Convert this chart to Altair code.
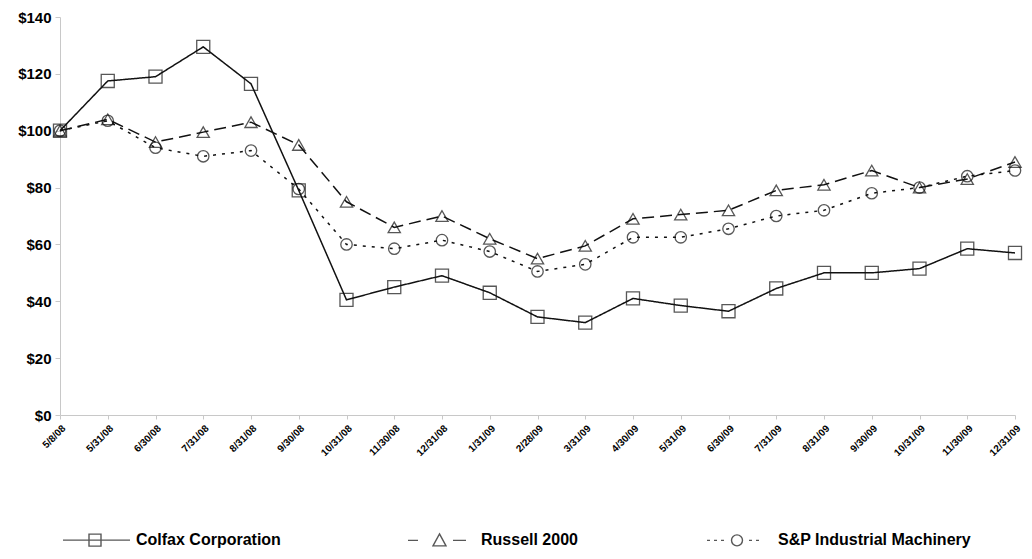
import altair as alt
import pandas as pd

dates = ["5/8/08", "5/31/08", "6/30/08", "7/31/08", "8/31/08", "9/30/08",
         "10/31/08", "11/30/08", "12/31/08", "1/31/09", "2/28/09", "3/31/09",
         "4/30/09", "5/31/09", "6/30/09", "7/31/09", "8/31/09", "9/30/09",
         "10/31/09", "11/30/09", "12/31/09"]

colfax = [100, 117.5, 119, 129.5, 116.5, 79, 40.5, 45, 49, 43, 34.5, 32.5,
          41, 38.5, 36.5, 44.5, 50, 50, 51.5, 58.5, 57]
russell = [100, 104, 96, 99.5, 103, 95, 75, 66, 70, 62, 55, 59.5,
           69, 70.5, 72, 79, 81, 86, 80, 83, 89]
sp_machinery = [100, 103.5, 94, 91, 93, 79.5, 60, 58.5, 61.5, 57.5, 50.5, 53,
                62.5, 62.5, 65.5, 70, 72, 78, 80, 84, 86]

series_names = ["Colfax Corporation", "Russell 2000", "S&P Industrial Machinery"]
y_ticks = [0, 20, 40, 60, 80, 100, 120, 140]

rows = []
for name, vals in zip(series_names, [colfax, russell, sp_machinery]):
    for d, v in zip(dates, vals):
        rows.append({"date": d, "value": v, "series": name})
df = pd.DataFrame(rows)

FONT = "Liberation Sans"

x_enc = alt.X("date:N", sort=dates,
              scale=alt.Scale(type="point", padding=0),
              axis=alt.Axis(title=None, labelAngle=-45, labelFontSize=10,
                            labelFontWeight="bold", labelFont=FONT,
                            labelColor="#000", domainColor="#c8c8c8",
                            tickColor="#c8c8c8", tickSize=4, labelPadding=4))
y_enc = alt.Y("value:Q", scale=alt.Scale(domain=[0, 140], nice=False),
              axis=alt.Axis(title=None, values=y_ticks, format="$.0f", grid=False,
                            labelFontSize=15, labelFontWeight="bold", labelFont=FONT,
                            labelColor="#000", domainColor="#c8c8c8",
                            tickColor="#c8c8c8", tickSize=5, labelPadding=4))

dashes = [[1, 0], [12, 6], [3, 6]]
shapes = ["square", "triangle-up", "circle"]
sizes = [170, 150, 130]

layers = []
for name, dash in zip(series_names, dashes):
    layers.append(
        alt.Chart(df).transform_filter(alt.datum.series == name)
        .mark_line(color="#111", strokeWidth=1.5, strokeDash=dash)
        .encode(x=x_enc, y=y_enc)
    )
for name, shp, sz in zip(series_names, shapes, sizes):
    layers.append(
        alt.Chart(df).transform_filter(alt.datum.series == name)
        .mark_point(color="#111", shape=shp, size=sz, filled=False, strokeWidth=1.3)
        .encode(x=x_enc, y=y_enc)
    )

# legend symbols: line + marker composites (units of 5px)
legend_paths = [
    "M-1,0H12.4M4.2,-1.2H6.6V1.2H4.2Z",
    "M-1,0H1M8,0H10.6M5.3,-1.3L6.6,1.1L4,1.1Z",
    "M-0.6,0H0M0.8,0H1.4M2.2,0H2.8"
    "M6.5,0A1.1,1.1,0,1,1,4.3,0A1.1,1.1,0,1,1,6.5,0"
    "M7.8,0H8.4M9.2,0H9.8",
]

legend_layer = (
    alt.Chart(df).transform_filter("false")
    .mark_point(color="#111", filled=False)
    .encode(shape=alt.Shape("series:N",
                            scale=alt.Scale(domain=series_names, range=legend_paths),
                            legend=alt.Legend(title=None, orient="bottom",
                                              direction="horizontal",
                                              symbolSize=100, symbolStrokeWidth=1.4,
                                              symbolStrokeColor="#111",
                                              labelFont=FONT, labelFontSize=16,
                                              labelFontWeight="bold", labelColor="#000",
                                              labelOffset=60, columnPadding=124,
                                              offset=74, labelLimit=400)))
)
layers.append(legend_layer)

chart = (
    alt.layer(*layers)
    .properties(width=955, height=398,
                autosize=alt.AutoSizeParams(type="none"),
                padding={"left": 52, "top": 9, "right": 9, "bottom": 136})
    .configure_view(stroke=None)
)

chart.save("out.html", embed_options={"renderer": "svg", "actions": False})
